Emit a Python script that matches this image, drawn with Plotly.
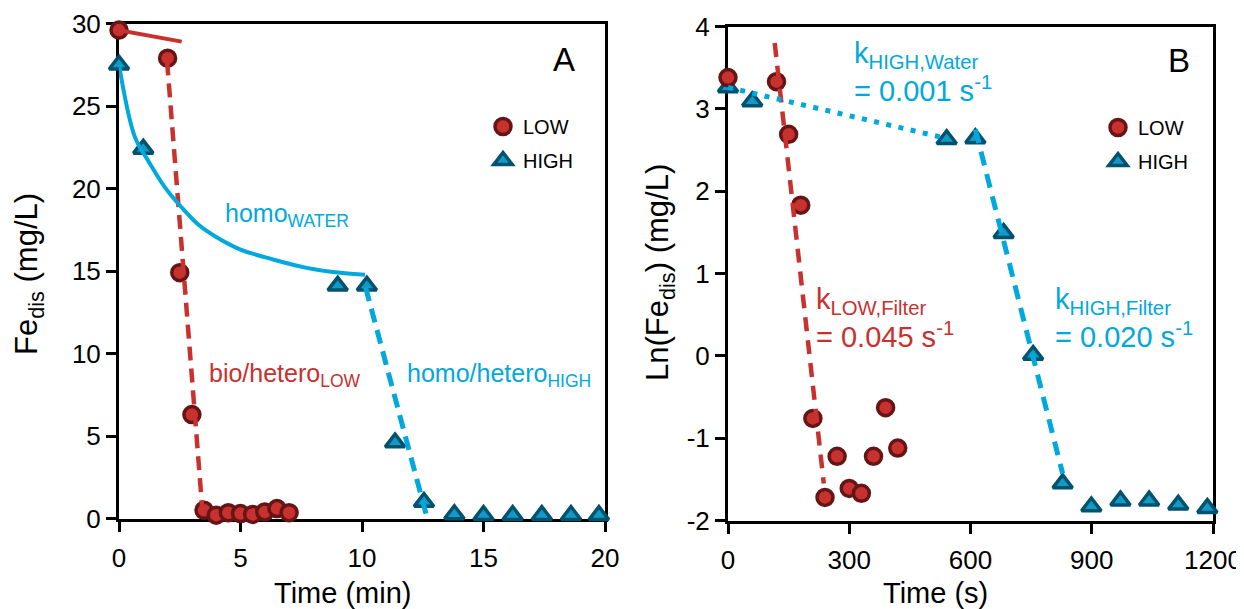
import plotly.graph_objects as go

# ---------------- Data ----------------
# Panel A: Fe_dis (mg/L) vs time (min)
a_low_t = [0, 2.0, 2.5, 3.0, 3.5, 4.0, 4.5, 5.0, 5.5, 6.0, 6.5, 7.0]
a_low_fe = [29.6, 27.9, 14.9, 6.3, 0.5, 0.2, 0.35, 0.3, 0.25, 0.4, 0.6, 0.35]
a_high_t = [0, 1.0, 9.0, 10.2, 11.36, 12.55, 13.8, 15.0, 16.2, 17.4, 18.6, 19.75]
a_high_fe = [27.5, 22.4, 14.1, 14.1, 4.6, 1.0, 0.25, 0.2, 0.2, 0.2, 0.2, 0.2]

# fitted lines drawn in panel A
a_low_water_t = [0, 2.58]
a_low_water_fe = [29.6, 28.9]
a_low_filter_t = [1.98, 3.42]
a_low_filter_fe = [27.7, 0.7]
a_high_water_t = [0, 0.66, 1.21, 1.89, 2.58, 3.26, 3.95, 5.0, 6.34, 7.73, 9.1, 10.12]
a_high_water_fe = [27.5, 23.1, 21.66, 20.07, 18.85, 17.82, 17.11, 16.3, 15.7, 15.19, 14.89, 14.78]
a_high_filter_t = [10.15, 12.65]
a_high_filter_fe = [14.0, 0.2]

# Panel B: ln(Fe_dis) vs time (s)
b_low_t = [0, 120, 150, 180, 210, 240, 270, 300, 330, 360, 390, 420]
b_low_ln = [3.38, 3.33, 2.69, 1.83, -0.76, -1.72, -1.22, -1.61, -1.67, -1.22, -0.63, -1.12]
b_high_t = [0, 60, 541, 612, 682, 755, 828, 899, 971, 1042, 1114, 1186]
b_high_ln = [3.26, 3.09, 2.63, 2.64, 1.49, 0.01, -1.55, -1.83, -1.76, -1.76, -1.81, -1.85]

b_low_filter_t = [115.6, 237]
b_low_filter_ln = [3.80, -1.55]
b_high_water_t = [0, 524]
b_high_water_ln = [3.26, 2.66]
b_high_filter_t = [612, 828]
b_high_filter_ln = [2.75, -1.43]

# tick labels
a_xticks = [0, 5, 10, 15, 20]
a_yticks = [0, 5, 10, 15, 20, 25, 30]
b_xticks = [0, 300, 600, 900, 1200]
b_yticks = [-2, -1, 0, 1, 2, 3, 4]
b_yticktext = ["-2", "-1", "0", "1", "2", "3", "4"]

# ---------------- Styles ----------------
RED_FILL = "#C8312E"
RED_EDGE = "#661516"
RED_LINE = "#C8312E"
BLUE_FILL = "#1399C6"
BLUE_EDGE = "#00526E"
BLUE_LINE = "#00A8DC"
FONT = "Liberation Sans, Arial, sans-serif"

OFF = 8  # default page margin of the html body
W, H = 1244 - OFF, 609 - OFF


def px(x):
    return (x - OFF) / W


def py(y):
    return 1 - (y - OFF) / H


fig = go.Figure()

circle = dict(symbol="circle", size=16, color=RED_FILL, line=dict(color=RED_EDGE, width=3.5))
tri = dict(symbol="triangle-up", size=17, color=BLUE_FILL, line=dict(color=BLUE_EDGE, width=3.5))

# ---- Panel A markers
fig.add_trace(go.Scatter(x=a_high_t, y=a_high_fe, mode="markers", marker=tri, name="HIGH",
                         legend="legend", legendrank=2, legendgroup="h", cliponaxis=False,
                         xaxis="x", yaxis="y"))
fig.add_trace(go.Scatter(x=a_low_t, y=a_low_fe, mode="markers", marker=circle, name="LOW",
                         legend="legend", legendrank=1, legendgroup="l", cliponaxis=False,
                         xaxis="x", yaxis="y"))
# ---- Panel A lines
fig.add_trace(go.Scatter(x=a_low_water_t, y=a_low_water_fe, mode="lines",
                         line=dict(color=RED_LINE, width=4), showlegend=False, xaxis="x", yaxis="y"))
fig.add_trace(go.Scatter(x=a_low_filter_t, y=a_low_filter_fe, mode="lines",
                         line=dict(color=RED_LINE, width=4.5, dash="14px,8px"), showlegend=False,
                         xaxis="x", yaxis="y"))
fig.add_trace(go.Scatter(x=a_high_water_t, y=a_high_water_fe, mode="lines",
                         line=dict(color=BLUE_LINE, width=4, shape="spline"), showlegend=False,
                         xaxis="x", yaxis="y"))
fig.add_trace(go.Scatter(x=a_high_filter_t, y=a_high_filter_fe, mode="lines",
                         line=dict(color=BLUE_LINE, width=5, dash="14px,8px"), showlegend=False,
                         xaxis="x", yaxis="y"))

# ---- Panel B markers
fig.add_trace(go.Scatter(x=b_high_t, y=b_high_ln, mode="markers", marker=tri, name="HIGH",
                         legend="legend2", legendrank=2, legendgroup="h2", cliponaxis=False,
                         xaxis="x2", yaxis="y2"))
fig.add_trace(go.Scatter(x=b_low_t, y=b_low_ln, mode="markers", marker=circle, name="LOW",
                         legend="legend2", legendrank=1, legendgroup="l2", cliponaxis=False,
                         xaxis="x2", yaxis="y2"))
# ---- Panel B lines
fig.add_trace(go.Scatter(x=b_low_filter_t, y=b_low_filter_ln, mode="lines",
                         line=dict(color=RED_LINE, width=4.5, dash="14px,9px"), showlegend=False,
                         xaxis="x2", yaxis="y2"))
fig.add_trace(go.Scatter(x=b_high_water_t, y=b_high_water_ln, mode="lines",
                         line=dict(color=BLUE_LINE, width=5, dash="5px,7.5px"), showlegend=False,
                         xaxis="x2", yaxis="y2"))
fig.add_trace(go.Scatter(x=b_high_filter_t, y=b_high_filter_ln, mode="lines",
                         line=dict(color=BLUE_LINE, width=5, dash="14px,9px"), showlegend=False,
                         xaxis="x2", yaxis="y2"))

axis_common = dict(showline=True, linecolor="black", linewidth=3, mirror=True,
                   ticks="outside", ticklen=10, tickwidth=3, tickcolor="black",
                   showgrid=False, zeroline=False, layer="below traces", automargin=False,
                   tickfont=dict(family=FONT, size=26, color="black"))

ann = []
tf = dict(family=FONT, size=25)
# Panel A labels
ann.append(dict(xref="x", yref="y", x=4.28, y=18.4, xanchor="left", yanchor="middle",
                text="homo<sub>WATER</sub>", showarrow=False, font=dict(tf, color=BLUE_LINE)))
ann.append(dict(xref="x", yref="y", x=3.62, y=8.7, xanchor="left", yanchor="middle",
                text="bio/hetero<sub>LOW</sub>", showarrow=False, font=dict(tf, color=RED_LINE)))
ann.append(dict(xref="x", yref="y", x=11.77, y=8.7, xanchor="left", yanchor="middle",
                text="homo/hetero<sub>HIGH</sub>", showarrow=False, font=dict(tf, color=BLUE_LINE)))
ann.append(dict(xref="x", yref="y", x=18.3, y=27.8, text="A", showarrow=False,
                font=dict(family=FONT, size=33, color="black")))
# Panel B labels
kf = dict(family=FONT, size=29)
ann.append(dict(xref="x2", yref="y2", x=308, y=3.45, xanchor="left", yanchor="middle", align="left",
                text="k<sub>HIGH,Water</sub><br>= 0.001 s<sup>-1</sup>", showarrow=False,
                font=dict(kf, color=BLUE_LINE)))
ann.append(dict(xref="x2", yref="y2", x=214, y=0.46, xanchor="left", yanchor="middle", align="left",
                text="k<sub>LOW,Filter</sub><br>= 0.045 s<sup>-1</sup>", showarrow=False,
                font=dict(kf, color=RED_LINE)))
ann.append(dict(xref="x2", yref="y2", x=804, y=0.46, xanchor="left", yanchor="middle", align="left",
                text="k<sub>HIGH,Filter</sub><br>= 0.020 s<sup>-1</sup>", showarrow=False,
                font=dict(kf, color=BLUE_LINE)))
ann.append(dict(xref="x2", yref="y2", x=1117, y=3.59, text="B", showarrow=False,
                font=dict(family=FONT, size=33, color="black")))
# Axis titles
titf = dict(family=FONT, size=29, color="black")
ann.append(dict(xref="paper", yref="paper", x=px(342), y=py(593), xanchor="center", yanchor="middle",
                text="Time (min)", showarrow=False, font=titf))
ann.append(dict(xref="paper", yref="paper", x=px(935), y=py(593), xanchor="center", yanchor="middle",
                text="Time (s)", showarrow=False, font=titf))
ann.append(dict(xref="paper", yref="paper", x=px(29), y=py(274), xanchor="center", yanchor="middle",
                text="Fe<sub>dis</sub> (mg/L)", textangle=-90, showarrow=False, font=dict(titf, size=31)))
ann.append(dict(xref="paper", yref="paper", x=px(660), y=py(272), xanchor="center", yanchor="middle",
                text="Ln(Fe<sub>dis</sub>) (mg/L)", textangle=-90, showarrow=False,
                font=dict(titf, size=31)))

legend_common = dict(font=dict(family=FONT, size=20, color="black"), bgcolor="rgba(0,0,0,0)",
                     traceorder="grouped", tracegroupgap=5, itemsizing="trace",
                     xanchor="left", yanchor="top")

fig.update_layout(
    template="none",
    width=W, height=H,
    margin=dict(l=0, r=0, t=0, b=0, autoexpand=False),
    paper_bgcolor="white", plot_bgcolor="white",
    xaxis=dict(axis_common, domain=[px(119), px(605)], range=[0, 20], tickvals=a_xticks, anchor="y",
               ticklabelstandoff=4),
    yaxis=dict(axis_common, domain=[py(518.5), py(23.5)], range=[0, 30], tickvals=a_yticks,
               anchor="x"),
    xaxis2=dict(axis_common, domain=[px(728), px(1213)], range=[0, 1200], tickvals=b_xticks,
                anchor="y2", ticklabelstandoff=4),
    yaxis2=dict(axis_common, domain=[py(520.5), py(26.5)], range=[-2, 4], tickvals=b_yticks,
                ticktext=b_yticktext, anchor="x2"),
    legend=dict(legend_common, x=px(483), y=py(107)),
    legend2=dict(legend_common, x=px(1098), y=py(108)),
    annotations=ann,
    showlegend=True,
)

fig.write_html("out.html")
